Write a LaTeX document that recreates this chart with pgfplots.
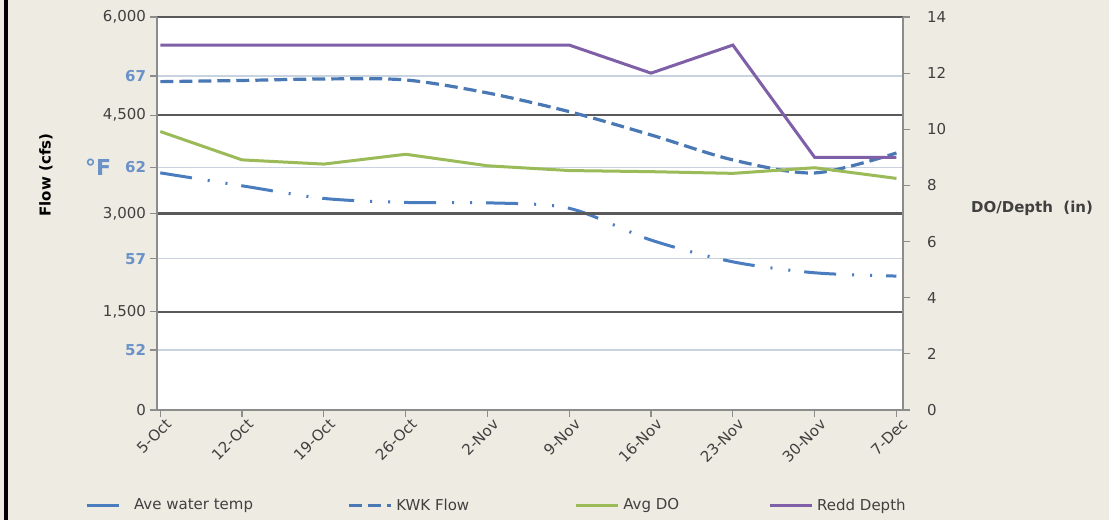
\documentclass[border=0pt]{standalone}
\usepackage{pgfplots}
\pgfplotsset{compat=1.18}
\usepackage{fontspec}
\setmainfont{DejaVu Sans}

\definecolor{bgc}{HTML}{EEEBE2}
\definecolor{tempblue}{HTML}{4A7CC0}
\definecolor{flowblue}{HTML}{4A78B5}
\definecolor{dogreen}{HTML}{9BBB59}
\definecolor{reddpurple}{HTML}{7E5FA8}
\definecolor{gridgray}{HTML}{5A5A5A}
\definecolor{axisgray}{HTML}{8C8C8C}
\definecolor{lightgrid}{HTML}{C9D3DF}
\definecolor{ticklab}{HTML}{404040}
\definecolor{templab}{HTML}{6A92C8}

\pgfplotsset{
  base/.style={
    scale only axis, width=373pt, height=196.5pt,
    at={(78.5pt,55pt)}, anchor=south west,
    xmin=-0.04, xmax=9.08,
    clip=false,
    axis line style={axisgray, line width=0.8pt},
    tick style={axisgray, line width=0.6pt},
    tick align=outside, major tick length=3.5pt,
    tick label style={ticklab, font=\fontsize{7.5}{9}\selectfont},
    /pgf/number format/assume math mode=true,
    /pgf/number format/1000 sep={,},
  },
  tempstyle/.style={tempblue, line width=1.5pt,
    dash pattern=on 16pt off 8pt on 1pt off 8pt on 1pt off 7pt},
  flowstyle/.style={flowblue, line width=1.6pt, dash pattern=on 6.5pt off 3pt},
  dostyle/.style={dogreen, line width=1.5pt},
  reddstyle/.style={reddpurple, line width=1.5pt},
}

\begin{document}
\begin{tikzpicture}
\fill[bgc] (0,0) rectangle (554.5pt,260pt);
\draw[black, line width=2pt] (3pt,0) -- (3pt,260pt);

% temperature scale (left, blue labels)
\begin{axis}[base,
  axis background/.style={fill=white},
  ymin=48.72, ymax=70.23,
  ytick={52,57,62,67},
  axis y line*=left, axis x line=none,
  y axis line style={draw=none},
  ymajorgrids, grid style={lightgrid, line width=0.7pt},
  yticklabel style={templab, font=\fontsize{7.5}{9}\selectfont\bfseries, xshift=1.5pt},
  xtick=\empty,
]
\addplot[tempstyle, smooth] coordinates {
  (0,61.70) (1,60.99) (2,60.30) (3,60.08) (4,60.06)
  (5,59.76) (6,58.02) (7,56.83) (8,56.23) (9,56.05)};
\end{axis}

% flow scale (left)
\begin{axis}[base,
  ymin=0, ymax=6000,
  ytick={1500,3000,4500,6000},
  extra y ticks={0}, extra y tick style={grid=none},
  axis y line*=left, axis x line*=bottom,
  ymajorgrids, grid style={gridgray, line width=1.2pt},
  yticklabel style={xshift=1.5pt},
  xtick={0,...,9},
  xticklabels={5-Oct,12-Oct,19-Oct,26-Oct,2-Nov,9-Nov,16-Nov,23-Nov,30-Nov,7-Dec},
  x tick label style={rotate=45, anchor=north east, inner sep=1.5pt, xshift=3pt},
]
\addplot[flowstyle, smooth] coordinates {
  (0,5013) (1,5031) (2,5054) (3,5039) (4,4841)
  (5,4555) (6,4199) (7,3818) (8,3619) (9,3924)};
\node[rotate=90, font=\fontsize{7.5}{9}\selectfont\bfseries, text=black]
  at (axis description cs:-0.149,0.598) {Flow (cfs)};
\node[font=\fontsize{11}{13}\selectfont\bfseries, text=templab]
  at (axis description cs:-0.079,0.618) {°F};
\end{axis}

% DO / depth scale (right)
\begin{axis}[base,
  ymin=0, ymax=14,
  ytick={0,2,...,14},
  axis y line*=right, axis x line=none,
  yticklabel style={xshift=5pt},
  xtick=\empty,
  legend columns=4,
  legend image code/.code={\draw[#1] (0pt,0pt) -- (21pt,0pt);},
  legend style={draw=none, fill=none,
    at={(axis description cs:-0.105,-0.244)}, anchor=west,
    font=\fontsize{7.5}{9}\selectfont, text=ticklab,
    /tikz/column 2/.style={column sep=45pt},
    /tikz/column 4/.style={column sep=50.5pt},
    /tikz/column 6/.style={column sep=42.5pt}},
]
\addlegendimage{tempstyle}
\addlegendentry{Ave water temp}
\addlegendimage{flowstyle}
\addlegendentry{KWK Flow}
\addplot[dostyle] coordinates {
  (0,9.92) (1,8.91) (2,8.76) (3,9.11) (4,8.70)
  (5,8.53) (6,8.49) (7,8.43) (8,8.63) (9,8.25)};
\addlegendentry{Avg DO}
\addplot[reddstyle] coordinates {
  (0,13) (1,13) (2,13) (3,13) (4,13)
  (5,13) (6,12) (7,13) (8,9) (9,9)};
\addlegendentry{Redd Depth}
\node[font=\fontsize{7.5}{9}\selectfont\bfseries, text=ticklab]
  at (axis description cs:1.173,0.514) {DO/Depth\ \ (in)};
\end{axis}

\pgfresetboundingbox
\useasboundingbox (0,0) rectangle (554.5pt,260pt);
\end{tikzpicture}
\end{document}
